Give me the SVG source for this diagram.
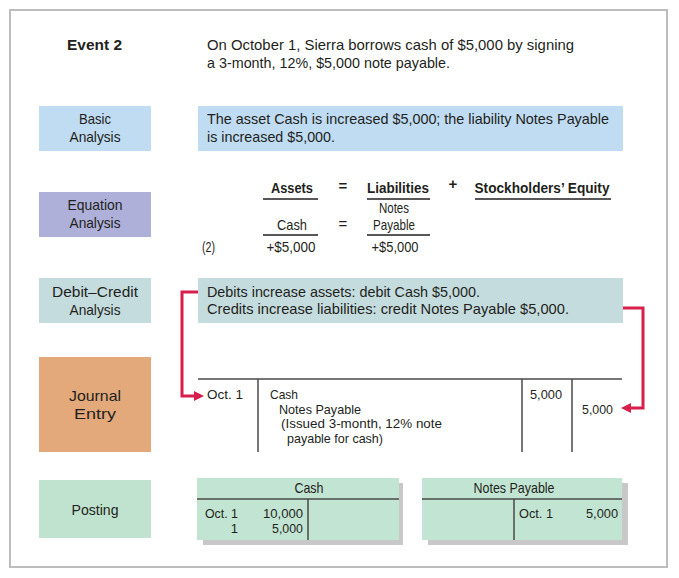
<svg xmlns="http://www.w3.org/2000/svg" width="679" height="578" viewBox="0 0 679 578">
<style>
text{font-family:"Liberation Sans",Arial,sans-serif;font-size:15px;fill:#231f20}
.b{font-weight:bold}
.m{text-anchor:middle}
.e{text-anchor:end}
.s{font-size:13px}
.ln{stroke:#4a4a4a;stroke-width:1.5;fill:none}
.ul{stroke:#231f20;stroke-width:1.5;fill:none}
.con{stroke:#d81e4a;stroke-width:3;fill:none}
.sh{fill:#c8c8c8}
.t{fill:#c2e4d2}
</style>
<defs>
<marker id="arr" markerUnits="userSpaceOnUse" markerWidth="11" markerHeight="11" refX="0" refY="5" orient="auto">
<path d="M0,0 L10,5 L0,10 z" fill="#d81e4a"/>
</marker>
</defs>
<rect x="0" y="0" width="679" height="578" fill="#ffffff"/>
<rect x="10" y="10" width="657" height="557" fill="#ffffff" stroke="#bdbdbd" stroke-width="2"/>

<g id="event">
<text x="67" y="50" class="b" textLength="55" lengthAdjust="spacingAndGlyphs">Event 2</text>
<text x="207" y="50" textLength="367" lengthAdjust="spacingAndGlyphs">On October 1, Sierra borrows cash of $5,000 by signing</text>
<text x="207" y="68" textLength="243" lengthAdjust="spacingAndGlyphs">a 3-month, 12%, $5,000 note payable.</text>
</g>

<g id="basic-label">
<rect x="39" y="106" width="112" height="45" fill="#bfdcf3"/>
<text x="95" y="124" class="m" textLength="32" lengthAdjust="spacingAndGlyphs">Basic</text>
<text x="95" y="142" class="m" textLength="51" lengthAdjust="spacingAndGlyphs">Analysis</text>
</g>
<g id="basic-text">
<rect x="198" y="106" width="425" height="45" fill="#bfdcf3"/>
<text x="207" y="124" textLength="402" lengthAdjust="spacingAndGlyphs">The asset Cash is increased $5,000; the liability Notes Payable</text>
<text x="207" y="142" textLength="128" lengthAdjust="spacingAndGlyphs">is increased $5,000.</text>
</g>

<g id="equation-label">
<rect x="39" y="192" width="112" height="45" fill="#aeb0da"/>
<text x="95" y="210" class="m" textLength="55" lengthAdjust="spacingAndGlyphs">Equation</text>
<text x="95" y="228" class="m" textLength="51" lengthAdjust="spacingAndGlyphs">Analysis</text>
</g>
<g id="equation">
<text x="292" y="193" class="b m" textLength="42" lengthAdjust="spacingAndGlyphs">Assets</text>
<text x="343" y="191" class="b m">=</text>
<text x="398" y="193" class="b m" textLength="62" lengthAdjust="spacingAndGlyphs">Liabilities</text>
<text x="453" y="189" class="b m">+</text>
<text x="542" y="193" class="b m" textLength="135" lengthAdjust="spacingAndGlyphs">Stockholders’ Equity</text>
<path class="ul" d="M263,199 H318 M367,199 H430 M475,199 H611 M263,235 H318 M367,235 H430"/>
<text x="394" y="213" class="m" textLength="30" lengthAdjust="spacingAndGlyphs">Notes</text>
<text x="292" y="230" class="m" textLength="30" lengthAdjust="spacingAndGlyphs">Cash</text>
<text x="343" y="229" class="m">=</text>
<text x="394" y="230" class="m" textLength="42" lengthAdjust="spacingAndGlyphs">Payable</text>
<text x="202" y="252" textLength="13" lengthAdjust="spacingAndGlyphs">(2)</text>
<text x="291" y="252" class="m" textLength="49" lengthAdjust="spacingAndGlyphs">+$5,000</text>
<text x="395" y="252" class="m" textLength="47" lengthAdjust="spacingAndGlyphs">+$5,000</text>
</g>

<g id="debit-credit-label">
<rect x="39" y="278" width="112" height="45" fill="#c5dcdf"/>
<text x="95" y="297" class="m" textLength="86" lengthAdjust="spacingAndGlyphs">Debit–Credit</text>
<text x="95" y="315" class="m" textLength="51" lengthAdjust="spacingAndGlyphs">Analysis</text>
</g>
<g id="debit-credit-text">
<rect x="198" y="278" width="425" height="45" fill="#c5dcdf"/>
<text x="207" y="297" textLength="273" lengthAdjust="spacingAndGlyphs">Debits increase assets: debit Cash $5,000.</text>
<text x="207" y="314" textLength="362" lengthAdjust="spacingAndGlyphs">Credits increase liabilities: credit Notes Payable $5,000.</text>
</g>

<g id="journal-label">
<rect x="39" y="357" width="112" height="95" fill="#e3a97a"/>
<text x="95" y="401" class="m" textLength="52" lengthAdjust="spacingAndGlyphs">Journal</text>
<text x="95" y="419" class="m" textLength="42" lengthAdjust="spacingAndGlyphs">Entry</text>
</g>
<g id="journal-entry">
<path class="ln" d="M198,379 H622 M258,379 V452 M522,379 V452 M572,379 V452"/>
<text x="207" y="399" class="s" textLength="36" lengthAdjust="spacingAndGlyphs">Oct. 1</text>
<text x="270" y="399" class="s" textLength="28" lengthAdjust="spacingAndGlyphs">Cash</text>
<text x="279" y="413.5" class="s" textLength="82" lengthAdjust="spacingAndGlyphs">Notes Payable</text>
<text x="281" y="428" class="s" textLength="161" lengthAdjust="spacingAndGlyphs">(Issued 3-month, 12% note</text>
<text x="287" y="442.5" class="s" textLength="96" lengthAdjust="spacingAndGlyphs">payable for cash)</text>
<text x="530" y="399" class="s" textLength="32" lengthAdjust="spacingAndGlyphs">5,000</text>
<text x="582" y="413.5" class="s" textLength="31" lengthAdjust="spacingAndGlyphs">5,000</text>
</g>

<g id="posting-label">
<rect x="39" y="480" width="112" height="58" fill="#bfe3cf"/>
<text x="95" y="515" class="m" textLength="47" lengthAdjust="spacingAndGlyphs">Posting</text>
</g>
<g id="cash-account">
<rect class="sh" x="203" y="483" width="200" height="62"/>
<rect class="t" x="197" y="478" width="202" height="62"/>
<path class="ln" d="M197,499 H399 M308,499 V540"/>
<text x="309" y="493" class="m" textLength="29" lengthAdjust="spacingAndGlyphs">Cash</text>
<text x="205" y="518" class="s" textLength="33" lengthAdjust="spacingAndGlyphs">Oct. 1</text>
<text x="303" y="518" class="e s" textLength="40" lengthAdjust="spacingAndGlyphs">10,000</text>
<text x="238" y="533" class="e s">1</text>
<text x="303" y="533" class="e s" textLength="31" lengthAdjust="spacingAndGlyphs">5,000</text>
</g>
<g id="notes-payable-account">
<rect class="sh" x="428" y="483" width="200" height="62"/>
<rect class="t" x="422" y="478" width="200" height="62"/>
<path class="ln" d="M422,499 H622 M514,499 V540"/>
<text x="514" y="493" class="m" textLength="81" lengthAdjust="spacingAndGlyphs">Notes Payable</text>
<text x="519" y="518" class="s" textLength="34" lengthAdjust="spacingAndGlyphs">Oct. 1</text>
<text x="618" y="518" class="e s" textLength="32" lengthAdjust="spacingAndGlyphs">5,000</text>
</g>

<g id="connectors">
<path class="con" d="M198,292 H182 V396 H194" marker-end="url(#arr)"/>
<path class="con" d="M623,308 H643 V408 H631" marker-end="url(#arr)"/>
</g>
</svg>
